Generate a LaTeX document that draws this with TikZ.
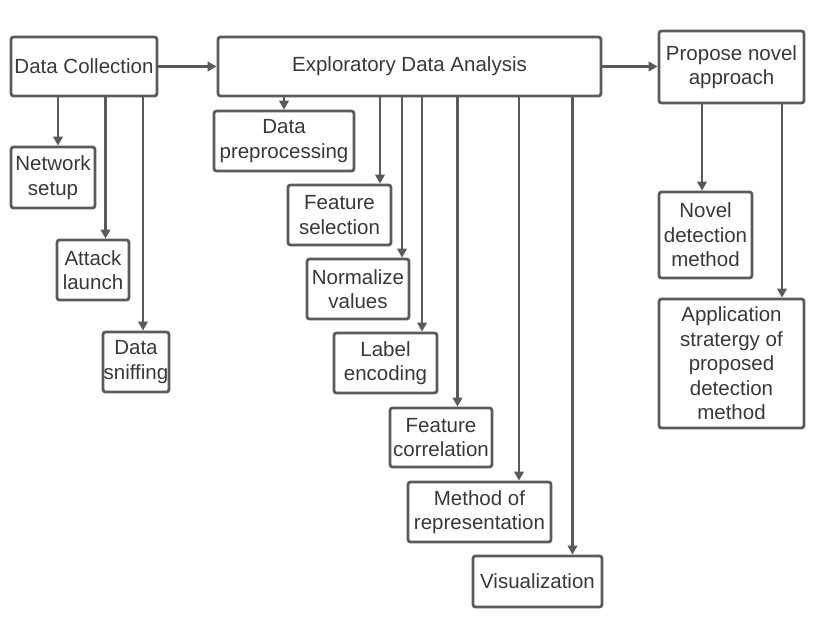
\documentclass[tikz,border=0pt]{standalone}
\usepackage{fontspec}
\setmainfont{Liberation Sans}
\usetikzlibrary{arrows.meta}
\definecolor{ln}{HTML}{5A5A5A}
\definecolor{tx}{HTML}{383838}
\tikzset{
  box/.style={draw=ln, line width=2.8pt, rounded corners=2.5pt, inner sep=0pt, align=center,
    text=tx, font=\fontsize{20.5}{24.5}\selectfont},
  arr/.style={draw=ln, line width=2.8pt, -{Triangle[length=9pt,width=9.5pt]}}
}
\begin{document}
\begin{tikzpicture}[x=1pt,y=-1pt]
\useasboundingbox (0,0) rectangle (829,621);
% top row
\node[box, minimum width=146pt, minimum height=59pt] (dc) at (84,66.5) {Data Collection};
\node[box, minimum width=383pt, minimum height=59pt] (eda) at (409.5,66.5) {Exploratory Data Analysis};
\node[box, minimum width=145pt, minimum height=72pt] (pna) at (731.5,67) {Propose novel\\approach};
% left column
\node[box, minimum width=84pt, minimum height=61pt] (ns) at (53,177.5) {Network\\setup};
\node[box, minimum width=72pt, minimum height=60pt] (al) at (93,270) {Attack\\launch};
\node[box, minimum width=66pt, minimum height=60pt] (ds) at (136,362) {Data\\sniffing};
% middle column
\node[box, minimum width=140pt, minimum height=60pt] (dp) at (284,141) {Data\\preprocessing};
\node[box, minimum width=103pt, minimum height=60pt] (fs) at (339.5,215) {Feature\\selection};
\node[box, minimum width=102pt, minimum height=60pt] (nv) at (358,289) {Normalize\\values};
\node[box, minimum width=103pt, minimum height=60pt] (le) at (385.5,363) {Label\\encoding};
\node[box, minimum width=102pt, minimum height=59pt] (fc) at (441,437.5) {Feature\\correlation};
\node[box, minimum width=143pt, minimum height=60pt] (mr) at (479.5,512) {Method of\\representation};
\node[box, minimum width=129pt, minimum height=51pt] (vz) at (537.5,581.5) {Visualization};
% right column
\node[box, minimum width=93pt, minimum height=86pt] (nd) at (705.5,235) {Novel\\detection\\method};
\node[box, minimum width=145pt, minimum height=129pt] (as) at (731.5,363.5) {Application\\stratergy of\\proposed\\detection\\method};
% horizontal arrows
\draw[arr] (dc.east) -- (eda.west);
\draw[arr] (eda.east) -- (eda.east -| pna.west);
% left arrows
\draw[arr] (58,0 |- dc.south) -- (58,0 |- ns.north);
\draw[arr] (105.5,0 |- dc.south) -- (105.5,0 |- al.north);
\draw[arr] (143,0 |- dc.south) -- (143,0 |- ds.north);
% middle arrows
\draw[arr] (284,0 |- eda.south) -- (284,0 |- dp.north);
\draw[arr] (380,0 |- eda.south) -- (380,0 |- fs.north);
\draw[arr] (402,0 |- eda.south) -- (402,0 |- nv.north);
\draw[arr] (422,0 |- eda.south) -- (422,0 |- le.north);
\draw[arr] (457.5,0 |- eda.south) -- (457.5,0 |- fc.north);
\draw[arr] (519,0 |- eda.south) -- (519,0 |- mr.north);
\draw[arr] (572.5,0 |- eda.south) -- (572.5,0 |- vz.north);
% right arrows
\draw[arr] (702,0 |- pna.south) -- (702,0 |- nd.north);
\draw[arr] (782,0 |- pna.south) -- (782,0 |- as.north);
\end{tikzpicture}
\end{document}
